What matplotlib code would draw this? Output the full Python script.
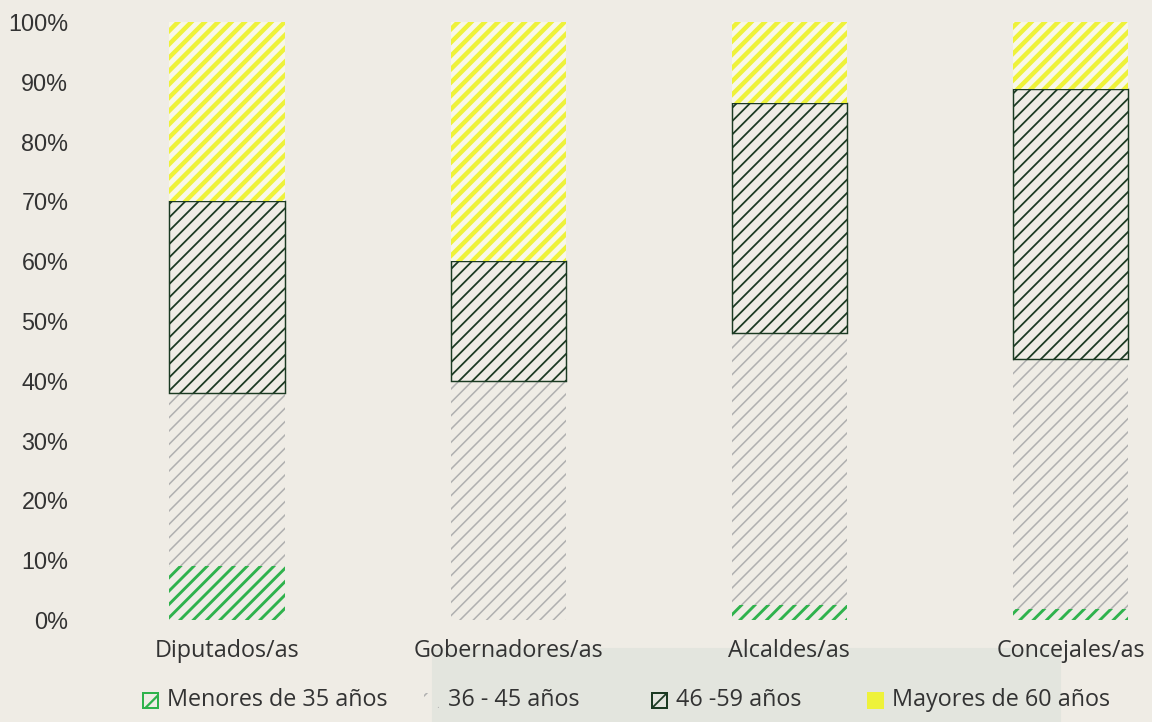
import matplotlib.pyplot as plt
import matplotlib as mpl
from matplotlib.patches import Rectangle

cargos = ["Diputados/as", "Gobernadores/as", "Alcaldes/as", "Concejales/as"]
grupos = ["Menores de 35 años", "36 - 45 años", "46 -59 años", "Mayores de 60 años"]
menores_35 = [9, 0, 2.5, 1.8]
edad_36_45 = [29, 40, 45.5, 41.8]
edad_46_59 = [32, 20, 38.5, 45.2]
mayores_60 = [30, 40, 13.5, 11.2]

colores = ["#2fb24c", "#b0b0b0", "#1b3a22", "#eef23a"]
rellenos = ["none", "none", "none", "#f8f7e8"]
grosor_hatch = [2.6, 1.4, 1.6, 4.0]
bordes = [0, 0, 1.3, 0]

bg = "#efece5"
txt = "#333333"
plt.rcParams["font.family"] = ["Open Sans", "DejaVu Sans"]

W, H = 1152, 722
fig = plt.figure(figsize=(W / 80, H / 80), dpi=80, facecolor=bg)
# faint band behind part of the legend
fig.patches.append(Rectangle((432 / W, 0), (1060 - 432) / W, 74 / H,
                             transform=fig.transFigure, color="#e3e5de", zorder=-5))
ax = fig.add_axes([95 / W, 102 / H, (W - 95) / W, 598 / H])
ax.set_facecolor("none")

x = list(range(len(cargos)))
bottom = [0] * len(cargos)
series = [menores_35, edad_36_45, edad_46_59, mayores_60]
for serie, nombre, col, fc, hw, lw in zip(series, grupos, colores, rellenos, grosor_hatch, bordes):
    with mpl.rc_context({"hatch.linewidth": hw}):
        bars = ax.bar(x, serie, bottom=bottom, width=0.41, facecolor=fc,
                      edgecolor=col, hatch="//", linewidth=lw, label=nombre)
        for b in bars:
            if hasattr(b, "set_hatch_linewidth"):
                b.set_hatch_linewidth(hw)
    bottom = [a + b for a, b in zip(bottom, serie)]

ax.set_xlim(-0.47, 3.29)
ax.set_ylim(0, 100)
ax.set_yticks(range(0, 101, 10))
ax.set_yticklabels([f"{v}%" for v in range(0, 101, 10)],
                   family=["Liberation Sans", "DejaVu Sans"], fontsize=21)
ax.set_xticks(x)
ax.set_xticklabels(cargos, fontsize=21)
ax.tick_params(length=0, colors=txt)
ax.tick_params(axis="x", pad=17)
ax.tick_params(axis="y", pad=24)
for s in ax.spines.values():
    s.set_visible(False)

# legend entries placed by hand (uneven spacing in the original)
ley_x = [143, 424, 652, 868]
ley_y = 700
caja = 15
for nombre, col, fc, hw, xi in zip(grupos, colores, rellenos, grosor_hatch, ley_x):
    es_gris = nombre.startswith("36")
    with mpl.rc_context({"hatch.linewidth": min(hw, 2.0)}):
        r = Rectangle((xi / W, (H - ley_y - caja / 2) / H), caja / W, caja / H,
                      transform=fig.transFigure,
                      facecolor=col if nombre.startswith("Mayores") else "none",
                      edgecolor=col, linewidth=0 if es_gris else 1.8, hatch="/")
    fig.patches.append(r)
    fig.text((xi + caja + 9) / W, (H - ley_y) / H, nombre, fontsize=21,
             color=txt, va="center", ha="left")

fig.savefig("out.png", dpi=80, facecolor=bg)
